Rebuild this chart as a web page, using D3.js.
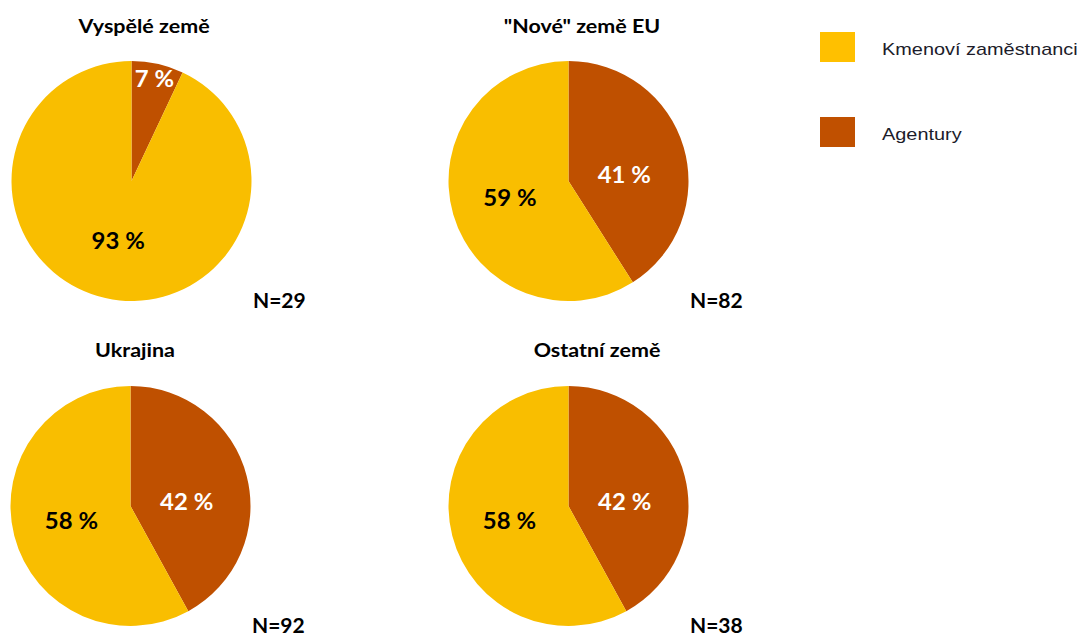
<!DOCTYPE html>
<html>
<head>
<meta charset="utf-8">
<script src="https://cdn.jsdelivr.net/npm/d3@7"></script>
<style>
  html, body { margin: 0; padding: 0; background: #fff; }
  svg { display: block; }
</style>
</head>
<body>
<svg id="chart" width="1081" height="637"></svg>
<script>
// Group names, respondent counts and shares (%) for each group
const groups = ["Vyspělé země", "\"Nové\" země EU", "Ukrajina", "Ostatní země"];
const respondents = [29, 82, 92, 38];
const agentury = [7, 41, 42, 42];
const kmenovi = [93, 59, 58, 58];
const seriesNames = ["Kmenoví zaměstnanci", "Agentury"];

// Panel layout (pie centre, title offset)
const panels = [
  { cx: 131.5, cy: 181, titleDx: 12.5, titleY: 33, nY: 308 },
  { cx: 568.5, cy: 181, titleDx: 13.5, titleY: 33, nY: 308 },
  { cx: 130.5, cy: 506, titleDx: 4.5, titleY: 357, nY: 633 },
  { cx: 568.5, cy: 506, titleDx: 28.5, titleY: 357, nY: 633 }
];
const radius = 120;

const colour = d3.scaleOrdinal()
  .domain(seriesNames)
  .range(["#F9BE00", "#BF5000"]);
const legendColour = d3.scaleOrdinal()
  .domain(seriesNames)
  .range(["#FFC000", "#C05000"]);

const svg = d3.select("#chart");
const boldFont = "Lato, 'Open Sans', sans-serif";

const pie = d3.pie().sort(null).value(d => d.value);
const arc = d3.arc().innerRadius(0).outerRadius(radius);

groups.forEach((name, i) => {
  const p = panels[i];
  const slices = pie([
    { series: "Agentury", value: agentury[i] },
    { series: "Kmenoví zaměstnanci", value: kmenovi[i] }
  ]);
  const g = svg.append("g").attr("transform", `translate(${p.cx},${p.cy})`);

  g.selectAll("path.slice")
    .data(slices)
    .join("path")
    .attr("class", "slice")
    .attr("d", arc)
    .attr("fill", d => colour(d.data.series));

  // value labels placed along each slice's mid-angle
  g.selectAll("text.val")
    .data(slices)
    .join("text")
    .attr("class", "val")
    .attr("transform", d => {
      const isBrown = d.data.series === "Agentury";
      const small = d.data.value < 10;
      const rr = isBrown ? (small ? 105 : 58) : 61;
      const [x, y] = d3.arc().innerRadius(rr).outerRadius(rr).centroid(d);
      const dy = isBrown && !small ? 10 : 0;
      return `translate(${x},${y + dy}) scale(1.04,1)`;
    })
    .attr("text-anchor", "middle")
    .attr("dy", "0.36em")
    .attr("font-family", boldFont)
    .attr("font-weight", 700)
    .attr("font-size", 23)
    .attr("fill", d => d.data.series === "Agentury" ? "#ffffff" : "#000000")
    .text(d => `${d.data.value} %`);

  // panel title
  svg.append("text")
    .attr("transform", `translate(${p.cx + p.titleDx},${p.titleY}) scale(1.13,1)`)
    .attr("text-anchor", "middle")
    .attr("font-family", boldFont)
    .attr("font-weight", 700)
    .attr("font-size", 19)
    .attr("fill", "#000")
    .text(name);

  // sample size
  svg.append("text")
    .attr("x", p.cx + 121.5)
    .attr("y", p.nY)
    .attr("font-family", boldFont)
    .attr("font-weight", 700)
    .attr("font-size", 21)
    .attr("fill", "#000")
    .text(`N=${respondents[i]}`);
});

// legend
const legend = svg.append("g").attr("transform", "translate(820,32)");
const legendItems = legend.selectAll("g.item")
  .data(seriesNames)
  .join("g")
  .attr("class", "item")
  .attr("transform", (d, i) => `translate(0,${i * 85})`);
legendItems.append("rect")
  .attr("width", 35)
  .attr("height", 30)
  .attr("fill", d => legendColour(d));
legendItems.append("text")
  .attr("transform", "translate(62,23) scale(1.17,1)")
  .attr("font-family", "'Liberation Sans', Arial, sans-serif")
  .attr("font-size", 17)
  .attr("fill", "#1c1c2a")
  .text(d => d);
</script>
</body>
</html>
